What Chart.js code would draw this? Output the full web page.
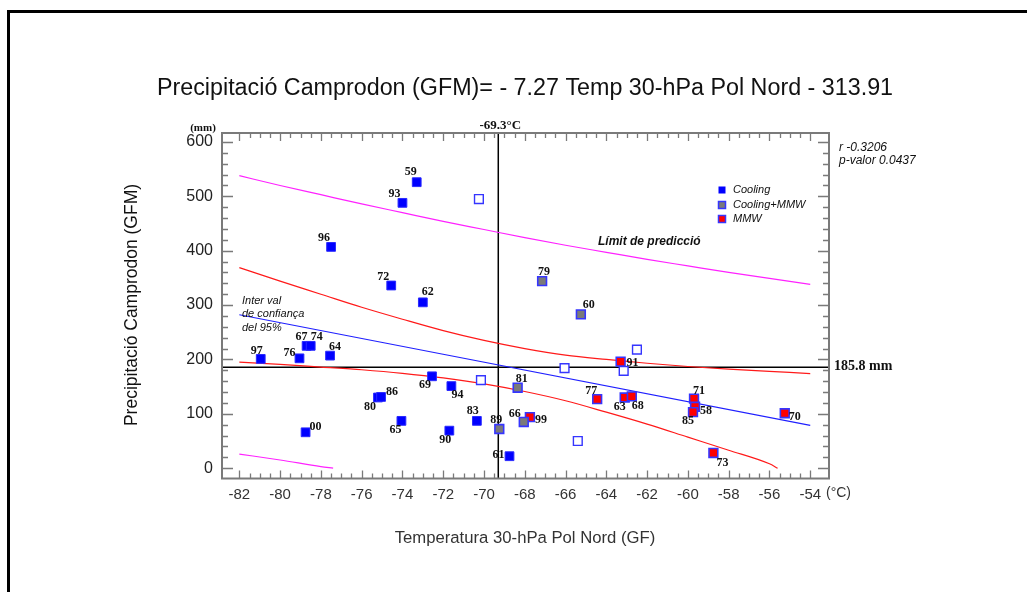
<!DOCTYPE html>
<html><head><meta charset="utf-8">
<script src="https://cdn.jsdelivr.net/npm/chart.js@4/dist/chart.umd.min.js"></script>
<style>html,body{margin:0;padding:0;background:#fff;}#wrap{position:relative;width:1027px;height:592px;}canvas{display:block}</style>
</head><body><div id="wrap"><canvas id="c" width="1027" height="592"></canvas></div>
<script>
// ---------- DATA ----------
const xTickLabels = [-82,-80,-78,-76,-74,-72,-70,-68,-66,-64,-62,-60,-58,-56,-54];
const yTickLabels = [0,100,200,300,400,500,600];

const coolingYears = ['59','93','96','72','62','97','76','67','74','64','00','80','86','65','69','94','90','83','61'];
const coolingTemp  = [-73.3,-74.0,-77.5,-74.55,-73.0,-80.95,-79.05,-78.7,-78.5,-77.55,-78.75,-75.2,-75.05,-74.05,-72.55,-71.6,-71.7,-70.35,-68.75];
const coolingPrec  = [526,488,407,336,305,201,202,225,225,207,66,130,131,87,169,151,69,87,22];

const coolMmwYears = ['79','60','81','89','66'];
const coolMmwTemp  = [-67.15,-65.25,-68.35,-69.25,-68.05];
const coolMmwPrec  = [344,283,148,72,85];

const mmwYears = ['91','77','63','68','71','58','85','70','73','99'];
const mmwTemp  = [-63.3,-64.45,-63.1,-62.75,-59.7,-59.65,-59.75,-55.25,-58.75,-67.75];
const mmwPrec  = [196,127,130,132,128,113,103,101,28,94];

const otherTemp = [-70.25,-70.15,-66.05,-63.15,-62.5,-65.4];
const otherPrec = [495,162,184,179,218,50];

const bandTemp  = [-82,-80,-78,-76,-74,-72,-70,-68,-66,-64,-62,-60,-58,-56,-54];
const predUpper = [538,520,503,486,470,454,439,424,410,397,384,372,360,349,338];
const confUpper = [369,344,320,296,274,253,235,220,208,200,193,187,182,178,174];
const confLowTemp = [-82,-80,-78,-76,-74,-72,-70,-68,-66,-64,-62,-60,-58,-56,-55.6];
const confLower   = [195,191,186,181,174.5,166,155,141,124,103,81,57,33,8,0];
const predLowTemp = [-82,-80,-78,-77.4];
const predLower   = [26,15,3,0];
const fitTemp = [-82,-54];
const fitPrec = [282.2,78.7];

const meanTemp = -69.3;
const meanPrec = 185.8;
const xMin = -82.85, xMax = -53.08, yMin = -19, yMax = 616.5;

// ---------- STYLE ----------
const labelOffset = {'59':[-6,-10],'93':[-8,-9],'96':[-7,-9],'72':[-8,-9],'62':[5,-10],'97':[-4,-8],'76':[-10,-5],
 '67':[-5,-9],'74':[6,-9],'64':[5,-9],'00':[10,-5],'80':[-8,9],'86':[11,-5],'65':[-6,9],'69':[-7,9],'94':[6,9],
 '90':[-4,9],'83':[-4,-10],'89':[-3,-9],'61':[-11,-1],'66':[-9,-8],'99':[11,3],'81':[4,-9],'77':[-6,-8],'63':[-5,9],
 '68':[6,9],'71':[5,-8],'58':[11,4],'85':[-5,9],'70':[10,4],'73':[9,10],'91':[12,1],'79':[2,-9],'60':[8,-9]};

const pts = (xs, ys) => xs.map((x,i)=>({x:x, y:ys[i]}));
const lineDs = (xs, ys, color) => ({type:'scatter', data:pts(xs,ys), showLine:true, borderColor:color, borderWidth:1.2,
  pointRadius:0, fill:false, tension:0.4, cubicInterpolationMode:'monotone', order:10});

const datasets = [
  {label:'Cooling', data:pts(coolingTemp,coolingPrec), years:coolingYears, pointStyle:'rect', pointRadius:6.2,
   backgroundColor:'#0000ff', borderColor:'#2a2aff', borderWidth:1, order:1},
  {label:'Cooling+MMW', data:pts(coolMmwTemp,coolMmwPrec), years:coolMmwYears, pointStyle:'rect', pointRadius:6.2,
   backgroundColor:'#7a7a7a', borderColor:'#3535ff', borderWidth:1.6, order:1},
  {label:'MMW', data:pts(mmwTemp,mmwPrec), years:mmwYears, pointStyle:'rect', pointRadius:6.2,
   backgroundColor:'#ff0000', borderColor:'#3535ff', borderWidth:1.6, order:1},
  {label:'other', data:pts(otherTemp,otherPrec), pointStyle:'rect', pointRadius:6.2,
   backgroundColor:'#ffffff', borderColor:'#3535ff', borderWidth:1.4, order:1},
  lineDs(bandTemp, predUpper, '#ff22ff'),
  lineDs(predLowTemp, predLower, '#ff22ff'),
  lineDs(bandTemp, confUpper, '#ff1a1a'),
  lineDs(confLowTemp, confLower, '#ff1a1a'),
  lineDs(fitTemp, fitPrec, '#2020ff'),
  Object.assign(lineDs([xMin,xMax],[meanPrec,meanPrec],'#000000'),{tension:0,borderWidth:1.5,order:12}),
  Object.assign(lineDs([meanTemp,meanTemp],[yMin,yMax],'#000000'),{tension:0,borderWidth:1.5,order:12})
];

const deco = {
  id:'deco',
  beforeDraw(chart){
    const c = chart.ctx;
    c.save();
    c.fillStyle='#fff'; c.fillRect(0,0,chart.width,chart.height);
    c.fillStyle='#000';
    c.fillRect(7,10,1020,3);
    c.fillRect(7,10,3,582);
    c.restore();
  },
  afterDraw(chart){
    const c = chart.ctx, a = chart.chartArea, xs = chart.scales.x, ys = chart.scales.y;
    c.save();
    // frame
    c.strokeStyle='#7a7a7a'; c.lineWidth=2;
    c.strokeRect(a.left, a.top, a.right-a.left, a.bottom-a.top);
    c.lineWidth=1.3; c.beginPath();
    for(let i=0;i<=56;i++){
      const v = xTickLabels[0] + i*0.5;
      const px = Math.round(xs.getPixelForValue(v))+0.5;
      const L = (i%4===0)?8:5;
      c.moveTo(px,a.bottom); c.lineTo(px,a.bottom-L);
      c.moveTo(px,a.top); c.lineTo(px,a.top+L);
    }
    for(let i=0;i<=30;i++){
      const v = i*20;
      const py = Math.round(ys.getPixelForValue(v))+0.5;
      const L = (i%5===0)?11:6;
      c.moveTo(a.left,py); c.lineTo(a.left+L,py);
      c.moveTo(a.right,py); c.lineTo(a.right-L,py);
    }
    c.stroke();
    // point labels
    c.fillStyle='#111'; c.font='bold 12px "Liberation Serif"'; c.textAlign='center'; c.textBaseline='middle';
    chart.data.datasets.forEach((ds,di)=>{
      if(!ds.years) return;
      const meta = chart.getDatasetMeta(di);
      meta.data.forEach((el,i)=>{
        const yr = ds.years[i]; const off = labelOffset[yr]||[0,-9];
        c.fillText(yr, el.x+off[0], el.y+off[1]);
      });
    });
    // title and axis titles
    c.fillStyle='#111';
    c.font='23.3px "Liberation Sans"'; c.textAlign='center';
    c.fillText('Precipitació Camprodon (GFM)= - 7.27 Temp 30-hPa Pol Nord - 313.91', 525, 89);
    c.font='16.7px "Liberation Sans"'; c.fillStyle='#333';
    c.fillText('Temperatura 30-hPa Pol Nord (GF)', 525, 538);
    c.save(); c.translate(132,305); c.rotate(-Math.PI/2);
    c.font='17.5px "Liberation Sans"'; c.fillStyle='#111';
    c.fillText('Precipitació Camprodon (GFM)',0,0); c.restore();
    // annotations
    c.fillStyle='#111';
    c.font='bold 11px "Liberation Serif"'; c.fillText('(mm)', 203, 128);
    c.font='bold 13px "Liberation Serif"'; c.fillText('-69.3°C', xs.getPixelForValue(meanTemp)+2, 126);
    c.textAlign='left';
    c.font='bold 14px "Liberation Serif"'; c.fillText('185.8 mm', a.right+5, ys.getPixelForValue(meanPrec)-1);
    c.font='14px "Liberation Sans"'; c.fillStyle='#333'; c.fillText('(°C)', a.right-3, 493);
    c.fillStyle='#111';
    c.font='italic 12px "Liberation Sans"';
    c.fillText('r -0.3206', 839, 148);
    c.fillText('p-valor 0.0437', 839, 161);
    c.font='italic 11px "Liberation Sans"';
    c.fillText('Inter val', 242, 301);
    c.fillText('de confiança', 242, 314);
    c.fillText('del 95%', 242, 328);
    c.font='bold italic 12px "Liberation Sans"';
    c.fillText('Límit de predicció', 598, 242);
    // legend
    const leg = [[0,190],[1,205],[2,219]];
    c.font='italic 11px "Liberation Sans"';
    leg.forEach(([di,y])=>{
      const ds = chart.data.datasets[di];
      c.fillStyle=ds.backgroundColor; c.fillRect(718.5,y-3.5,7,7);
      if(di>0){ c.strokeStyle=ds.borderColor; c.lineWidth=1.5; c.strokeRect(718.5,y-3.5,7,7); }
      c.fillStyle='#111'; c.fillText(ds.label, 733, y);
    });
    c.restore();
  }
};

new Chart(document.getElementById('c'), {
  type:'scatter',
  data:{datasets:datasets},
  options:{
    responsive:false, animation:false, events:[],
    layout:{padding:{left:162,right:198,top:133,bottom:73.5}},
    plugins:{legend:{display:false},tooltip:{enabled:false},title:{display:false}},
    scales:{
      x:{type:'linear', min:xMin, max:xMax,
         afterBuildTicks:s=>{s.ticks=xTickLabels.map(v=>({value:v}));},
         afterFit:s=>{s.height=40;},
         grid:{display:false,drawTicks:false}, border:{display:false},
         ticks:{font:{family:'Liberation Sans',size:15},color:'#333',padding:7,maxRotation:0,autoSkip:false}},
      y:{type:'linear', min:yMin, max:yMax,
         afterBuildTicks:s=>{s.ticks=yTickLabels.map(v=>({value:v}));},
         afterFit:s=>{s.width=60;},
         grid:{display:false,drawTicks:false}, border:{display:false},
         ticks:{font:{family:'Liberation Sans',size:16},color:'#222',padding:9,autoSkip:false}}
    }
  },
  plugins:[deco]
});
</script></body></html>
